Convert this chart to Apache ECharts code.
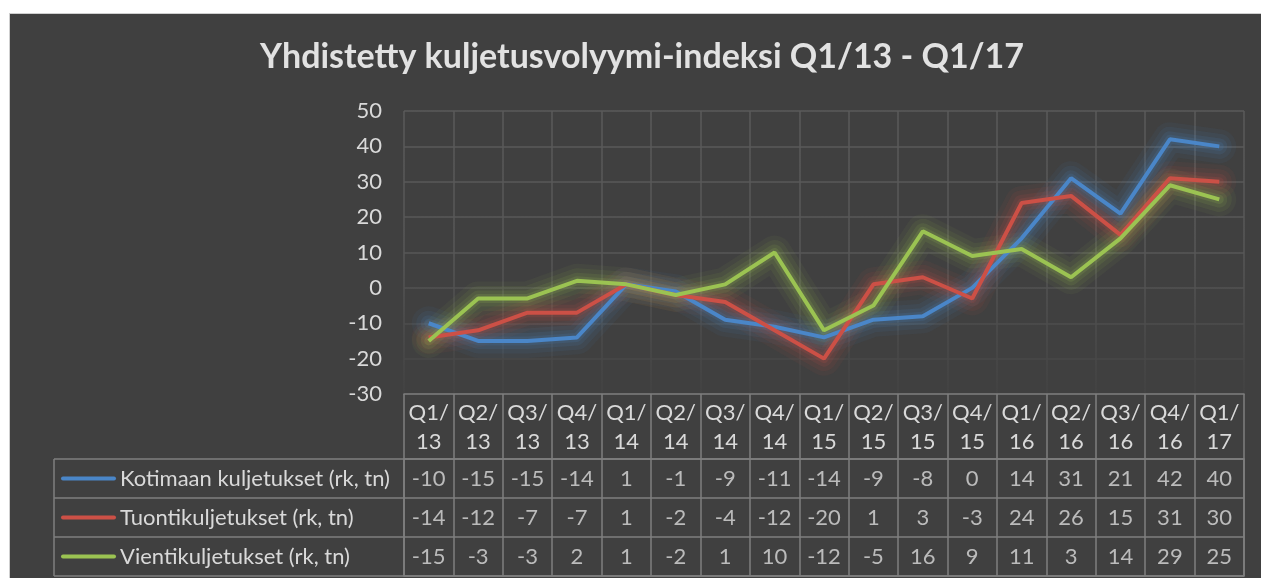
<!DOCTYPE html>
<html>
<head>
<meta charset="utf-8">
<script src="https://cdn.jsdelivr.net/npm/echarts@6/dist/echarts.min.js"></script>
<style>
  html, body { margin: 0; padding: 0; background: #fff; }
  #wrap { position: relative; width: 1261px; height: 578px; overflow: hidden; }
  #panel { position: absolute; left: 9px; top: 13px; right: 0; bottom: 0;
           background: #404040; border-top: 1px solid #cfcfcf; border-left: 1px solid #cfcfcf; }
  #chart { position: absolute; left: 0; top: 0; width: 1261px; height: 578px; }
</style>
</head>
<body>
<div id="wrap">
  <div id="panel"></div>
  <div id="chart"></div>
</div>
<script>
  // neljännekset
  var quarters = ['Q1/13', 'Q2/13', 'Q3/13', 'Q4/13', 'Q1/14', 'Q2/14', 'Q3/14', 'Q4/14',
                  'Q1/15', 'Q2/15', 'Q3/15', 'Q4/15', 'Q1/16', 'Q2/16', 'Q3/16', 'Q4/16', 'Q1/17'];
  var kotimaan = [-10, -15, -15, -14, 1, -1, -9, -11, -14, -9, -8, 0, 14, 31, 21, 42, 40];
  var tuonti = [-14, -12, -7, -7, 1, -2, -4, -12, -20, 1, 3, -3, 24, 26, 15, 31, 30];
  var vienti = [-15, -3, -3, 2, 1, -2, 1, 10, -12, -5, 16, 9, 11, 3, 14, 29, 25];
  var seriesNames = ['Kotimaan kuljetukset (rk, tn)', 'Tuontikuljetukset (rk, tn)', 'Vientikuljetukset (rk, tn)'];
  var yTicks = { min: -30, max: 50, step: 10 };

  var colors = ['#4a86c8', '#cc5046', '#9bc352'];
  var rgb = ['74,134,200', '204,80,70', '155,195,82'];
  var textColor = '#d9d9d9';
  var tableLine = '#7f7f7f';
  var font = 'Lato, "Open Sans", sans-serif';
  var fs = 22;

  var chart = echarts.init(document.getElementById('chart'), null, { renderer: 'canvas' });

  // ruudukko haalistuu alaspäin
  var gridFade = new echarts.graphic.LinearGradient(0, 111, 0, 394, [
    { offset: 0, color: '#5a5a5a' },
    { offset: 0.5, color: '#575757' },
    { offset: 0.8, color: '#4b4b4b' },
    { offset: 1, color: '#434343' }
  ], true);

  var allValues = [kotimaan, tuonti, vienti];
  // hehku: muutama leveä läpikuultava viiva varsinaisen viivan alla
  var glowSeries = [];
  [[34, 0.06], [25, 0.08], [16, 0.11], [9, 0.14]].forEach(function (g) {
    allValues.forEach(function (vals, k) {
      glowSeries.push({
        type: 'line', xAxisIndex: 0, yAxisIndex: 0, data: vals, symbol: 'none', silent: true,
        z: 2,
        lineStyle: { width: g[0], color: 'rgba(' + rgb[k] + ',' + g[1] + ')', cap: 'round', join: 'round' },
        animation: false
      });
    });
  });
  var lineSeries = allValues.map(function (vals, k) {
    return {
      name: seriesNames[k],
      type: 'line',
      xAxisIndex: 0,
      yAxisIndex: 0,
      data: vals,
      symbol: 'none',
      z: 3 + k,
      lineStyle: { width: 4, color: colors[k] },
      itemStyle: { color: colors[k] },
      animation: false
    };
  });

  // taulukon solut
  var cells = [];
  allValues.forEach(function (vals, r) {
    vals.forEach(function (v, i) { cells.push([i, r, v]); });
  });

  var rich = {};
  colors.forEach(function (c, k) {
    rich['m' + k] = { width: 55, height: 4, backgroundColor: c, borderRadius: 2 };
  });
  rich.t = { color: textColor, fontSize: fs, fontFamily: font, padding: [0, 0, 0, 4] };

  chart.setOption({
    animation: false,
    graphic: [
      {
        type: 'text', x: 642, y: 57,
        style: {
          text: 'Yhdistetty kuljetusvolyymi-indeksi Q1/13 - Q1/17',
          fill: '#e2e2e2', font: 'bold 34px ' + font, align: 'center', verticalAlign: 'middle'
        }
      },
      {
        type: 'line', shape: { x1: 54, y1: 459, x2: 54, y2: 576 },
        style: { stroke: tableLine, lineWidth: 1.5 }
      }
    ],
    grid: [
      { left: 404, right: 17, top: 111, bottom: 184 },
      { left: 404, right: 17, top: 459, bottom: 2, show: true, borderColor: tableLine, borderWidth: 1.5 }
    ],
    xAxis: [
      {
        type: 'category', gridIndex: 0, data: quarters,
        axisLine: { onZero: false, lineStyle: { color: tableLine, width: 1.5 } },
        axisTick: { show: true, interval: 0, length: 65, lineStyle: { color: tableLine, width: 1.5 } },
        axisLabel: {
          interval: 0, color: textColor, fontSize: fs, fontFamily: font, lineHeight: 29, margin: 4,
          formatter: function (v) { return v.replace('/', '/\n'); }
        },
        splitLine: { show: true, interval: 0, lineStyle: { color: gridFade, width: 1.5 } }
      },
      {
        type: 'category', gridIndex: 1, data: quarters,
        axisLine: { show: false }, axisTick: { show: false }, axisLabel: { show: false },
        splitLine: { show: true, interval: 0, lineStyle: { color: tableLine, width: 1.5 } }
      }
    ],
    yAxis: [
      {
        type: 'value', gridIndex: 0, min: yTicks.min, max: yTicks.max, interval: yTicks.step,
        axisLine: { show: false }, axisTick: { show: false },
        axisLabel: { color: textColor, fontSize: fs, fontFamily: font, margin: 22 },
        splitLine: { show: true, lineStyle: { color: gridFade, width: 1.5 } }
      },
      {
        type: 'category', gridIndex: 1, data: seriesNames, inverse: true,
        axisLine: { show: false },
        axisTick: { show: true, interval: 0, length: 350, lineStyle: { color: tableLine, width: 1.5 } },
        axisLabel: {
          interval: 0, align: 'left', margin: 343, rich: rich,
          formatter: function (v, i) { return '{m' + i + '| }{t|' + v + '}'; }
        },
        splitLine: { show: true, interval: 0, lineStyle: { color: tableLine, width: 1.5 } }
      }
    ],
    series: glowSeries.concat(lineSeries, [
      {
        type: 'scatter', xAxisIndex: 1, yAxisIndex: 1, data: cells,
        symbolSize: 0, silent: true,
        label: {
          show: true, position: 'inside', color: textColor, fontSize: fs, fontFamily: font,
          formatter: function (p) { return String(p.value[2]); }
        }
      }
    ])
  });
</script>
</body>
</html>
